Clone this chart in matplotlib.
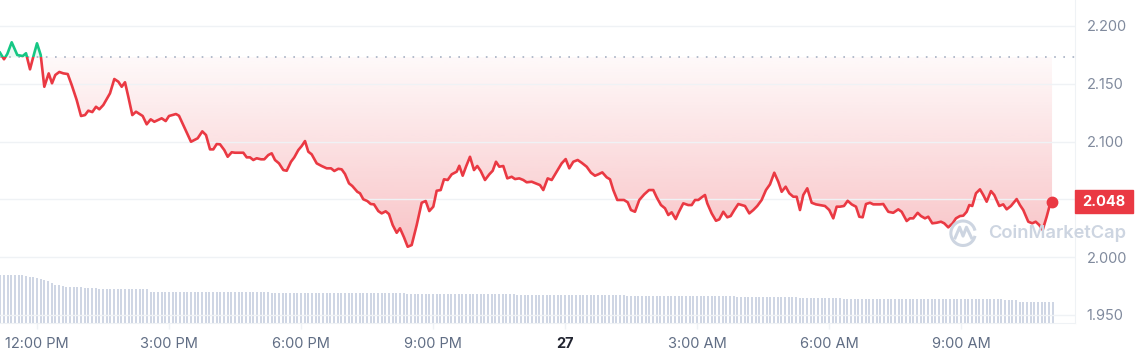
import matplotlib

matplotlib.use("Agg")
import matplotlib.pyplot as plt
import matplotlib.ticker as ticker
import matplotlib.transforms as mtransforms
from matplotlib.patches import Rectangle, Arc
import numpy as np

# time in hours since 00:00 on the 26th (24 = midnight "27")
times = [
    11.159, 11.25, 11.325, 11.425, 11.552, 11.675, 11.75, 11.841, 11.916, 12.0,
    12.084, 12.166, 12.266, 12.341, 12.416, 12.507, 12.598, 12.698, 12.789, 12.902,
    13.0, 13.091, 13.166, 13.257, 13.341, 13.416, 13.507, 13.659, 13.757, 13.848,
    13.925, 14.0, 14.075, 14.166, 14.25, 14.402, 14.493, 14.584, 14.666, 14.834,
    14.925, 15.0, 15.159, 15.227, 15.325, 15.5, 15.652, 15.757, 15.841, 15.932,
    16.007, 16.084, 16.159, 16.257, 16.334, 16.425, 16.5, 16.689, 16.766, 16.841,
    16.916, 16.993, 17.091, 17.166, 17.257, 17.334, 17.409, 17.5, 17.598, 17.675,
    17.773, 17.848, 17.939, 18.016, 18.091, 18.166, 18.243, 18.357, 18.470, 18.584,
    18.682, 18.757, 18.848, 18.925, 19.0, 19.091, 19.166, 19.280, 19.341, 19.416,
    19.507, 19.584, 19.659, 19.757, 19.834, 19.925, 20.0, 20.084, 20.175, 20.25,
    20.341, 20.425, 20.516, 20.630, 20.743, 20.834, 20.916, 21.007, 21.084, 21.175,
    21.25, 21.334, 21.425, 21.539, 21.598, 21.675, 21.75, 21.841, 21.932, 22.007,
    22.084, 22.182, 22.280, 22.357, 22.432, 22.507, 22.598, 22.689, 22.789, 22.864,
    22.961, 23.052, 23.130, 23.243, 23.334, 23.432, 23.507, 23.607, 23.698, 23.811,
    23.925, 24.016, 24.098, 24.189, 24.289, 24.380, 24.493, 24.591, 24.682, 24.757,
    24.848, 24.948, 25.023, 25.098, 25.189, 25.341, 25.425, 25.5, 25.591, 25.689,
    25.802, 25.909, 26.007, 26.084, 26.182, 26.273, 26.348, 26.425, 26.516, 26.591,
    26.689, 26.802, 26.880, 26.955, 27.030, 27.107, 27.182, 27.234, 27.334, 27.432,
    27.507, 27.598, 27.689, 27.766, 27.848, 27.939, 28.016, 28.091, 28.189, 28.280,
    28.370, 28.470, 28.568, 28.659, 28.757, 28.848, 28.925, 29.016, 29.098, 29.189,
    29.266, 29.341, 29.416, 29.507, 29.607, 29.705, 29.795, 29.909, 30.007, 30.098,
    30.175, 30.25, 30.341, 30.425, 30.516, 30.614, 30.689, 30.766, 30.841, 30.932,
    31.007, 31.159, 31.234, 31.348, 31.461, 31.575, 31.652, 31.766, 31.841, 31.916,
    32.016, 32.091, 32.182, 32.257, 32.348, 32.448, 32.545, 32.620, 32.711, 32.811,
    32.886, 32.977, 33.052, 33.130, 33.189, 33.257, 33.341, 33.432, 33.507, 33.584,
    33.682, 33.757, 33.870, 33.961, 34.039, 34.136, 34.266, 34.341, 34.416, 34.530,
    34.620, 34.698, 34.780, 34.857, 34.948, 35.045, 35.07,
]

prices = [
    2.1769, 2.1712, 2.1758, 2.1859, 2.1749, 2.1740, 2.1764, 2.1625, 2.1734, 2.1850,
    2.1749, 2.1474, 2.1590, 2.1504, 2.1576, 2.1602, 2.1590, 2.1584, 2.1489, 2.1359,
    2.1221, 2.1229, 2.1267, 2.1255, 2.1301, 2.1279, 2.1316, 2.1417, 2.1541, 2.1518,
    2.1474, 2.1513, 2.1388, 2.1229, 2.1258, 2.1221, 2.1149, 2.1192, 2.1171, 2.1201,
    2.1177, 2.1221, 2.1238, 2.1223, 2.1143, 2.0998, 2.1028, 2.1088, 2.1056, 2.0932,
    2.0932, 2.0978, 2.0976, 2.0926, 2.0868, 2.0907, 2.0903, 2.0903, 2.0863, 2.0863,
    2.0840, 2.0855, 2.0846, 2.0846, 2.0883, 2.0898, 2.0840, 2.0811, 2.0753, 2.0747,
    2.0825, 2.0863, 2.0926, 2.0961, 2.1004, 2.0912, 2.0889, 2.0811, 2.0788, 2.0768,
    2.0768, 2.0745, 2.0764, 2.0759, 2.0719, 2.0638, 2.0615, 2.0565, 2.0552, 2.0500,
    2.0485, 2.0459, 2.0456, 2.0398, 2.0378, 2.0396, 2.0372, 2.0277, 2.0210, 2.0249,
    2.0171, 2.0089, 2.0104, 2.0277, 2.0470, 2.0485, 2.0398, 2.0436, 2.0574, 2.0580,
    2.0673, 2.0667, 2.0716, 2.0739, 2.0790, 2.0704, 2.0782, 2.0868, 2.0753, 2.0788,
    2.0745, 2.0667, 2.0716, 2.0747, 2.0825, 2.0782, 2.0788, 2.0681, 2.0695, 2.0675,
    2.0681, 2.0667, 2.0647, 2.0652, 2.0638, 2.0623, 2.0580, 2.0681, 2.0667, 2.0739,
    2.0811, 2.0848, 2.0768, 2.0825, 2.0840, 2.0816, 2.0782, 2.0730, 2.0704, 2.0716,
    2.0733, 2.0690, 2.0673, 2.0580, 2.0494, 2.0494, 2.0474, 2.0407, 2.0392, 2.0494,
    2.0543, 2.0580, 2.0580, 2.0517, 2.0450, 2.0422, 2.0364, 2.0387, 2.0329, 2.0392,
    2.0465, 2.0450, 2.0450, 2.0494, 2.0494, 2.0517, 2.0537, 2.0465, 2.0378, 2.0314,
    2.0326, 2.0392, 2.0344, 2.0355, 2.0407, 2.0459, 2.0450, 2.0442, 2.0378, 2.0407,
    2.0442, 2.0494, 2.0580, 2.0629, 2.0730, 2.0652, 2.0565, 2.0609, 2.0552, 2.0522,
    2.0522, 2.0407, 2.0537, 2.0595, 2.0470, 2.0456, 2.0450, 2.0442, 2.0407, 2.0335,
    2.0436, 2.0436, 2.0442, 2.0487, 2.0456, 2.0436, 2.0349, 2.0344, 2.0459, 2.0470,
    2.0456, 2.0456, 2.0459, 2.0392, 2.0383, 2.0413, 2.0392, 2.0312, 2.0335, 2.0335,
    2.0383, 2.0355, 2.0335, 2.0349, 2.0292, 2.0297, 2.0306, 2.0292, 2.0257, 2.0292,
    2.0335, 2.0355, 2.0358, 2.0392, 2.0450, 2.0442, 2.0552, 2.0586, 2.0537, 2.0479,
    2.0571, 2.0537, 2.0442, 2.0456, 2.0413, 2.0442, 2.0502, 2.0450, 2.0407, 2.0306,
    2.0292, 2.0306, 2.0277, 2.0234, 2.0349, 2.0487, 2.048,
]

# 24h volume (billions), one bar every 5 minutes starting 11:10
vol_start = 11.167
volumes = [
    4.80, 4.80, 4.80, 4.80, 4.80, 4.80, 4.80, 4.75, 4.65, 4.60, 4.50, 4.45,
    4.35, 4.20, 4.00, 3.85, 3.80, 3.70, 3.65, 3.65, 3.60, 3.60, 3.60, 3.55,
    3.55, 3.55, 3.50, 3.40, 3.40, 3.40, 3.40, 3.40, 3.40, 3.40, 3.40, 3.40,
    3.40, 3.40, 3.40, 3.40, 3.40, 3.15, 3.15, 3.15, 3.15, 3.15, 3.15, 3.15,
    3.15, 3.15, 3.15, 3.15, 3.15, 3.15, 3.15, 3.15, 3.15, 3.15, 3.15, 3.15,
    3.15, 3.15, 3.15, 3.15, 3.15, 3.15, 3.15, 3.15, 3.15, 3.15, 3.15, 3.15,
    3.15, 3.15, 3.05, 3.05, 3.05, 3.05, 3.05, 3.05, 3.05, 3.05, 3.00, 3.00,
    3.00, 3.00, 3.00, 3.00, 3.00, 3.00, 3.00, 3.00, 3.00, 3.00, 3.00, 3.00,
    3.00, 3.00, 3.00, 3.00, 3.00, 3.00, 3.00, 3.00, 3.00, 3.00, 3.00, 3.00,
    3.00, 3.00, 3.00, 2.95, 2.95, 2.95, 2.95, 2.95, 2.95, 2.95, 2.95, 2.95,
    2.95, 2.95, 2.95, 2.95, 2.95, 2.95, 2.95, 2.95, 2.95, 2.95, 2.95, 2.95,
    2.95, 2.95, 2.95, 2.95, 2.95, 2.95, 2.95, 2.95, 2.95, 2.85, 2.85, 2.85,
    2.85, 2.85, 2.85, 2.85, 2.85, 2.85, 2.85, 2.85, 2.85, 2.85, 2.85, 2.85,
    2.85, 2.85, 2.85, 2.85, 2.85, 2.85, 2.85, 2.85, 2.85, 2.85, 2.85, 2.85,
    2.85, 2.85, 2.85, 2.75, 2.75, 2.75, 2.75, 2.75, 2.75, 2.75, 2.75, 2.75,
    2.75, 2.75, 2.75, 2.75, 2.75, 2.75, 2.75, 2.75, 2.75, 2.75, 2.75, 2.75,
    2.75, 2.75, 2.75, 2.75, 2.75, 2.75, 2.75, 2.75, 2.75, 2.65, 2.65, 2.65,
    2.65, 2.65, 2.65, 2.65, 2.65, 2.65, 2.65, 2.65, 2.65, 2.65, 2.65, 2.65,
    2.65, 2.65, 2.53, 2.53, 2.53, 2.53, 2.53, 2.53, 2.53, 2.53, 2.53, 2.53,
    2.53, 2.53, 2.37, 2.37, 2.37, 2.37, 2.37, 2.37, 2.37, 2.37, 2.37, 2.37,
    2.37, 2.37, 2.37, 2.37, 2.37, 2.37, 2.37, 2.37, 2.37, 2.37, 2.37, 2.37,
    2.37, 2.37, 2.37, 2.37, 2.37, 2.37, 2.37, 2.37, 2.37, 2.37, 2.37, 2.37,
    2.37, 2.37, 2.37, 2.37, 2.37, 2.37, 2.37, 2.37, 2.37, 2.37, 2.27, 2.27,
    2.27, 2.27, 2.13, 2.13, 2.13, 2.13, 2.13, 2.13, 2.13, 2.13, 2.13, 2.13,
]

open_price = 2.1732
last_price = 2.048
y_ticks = [1.95, 2.00, 2.05, 2.10, 2.15, 2.20]
x_ticks = [12, 15, 18, 21, 24, 27, 30, 33]
x_labels = ["12:00 PM", "3:00 PM", "6:00 PM", "9:00 PM", "27", "3:00 AM", "6:00 AM", "9:00 AM"]

RED = "#ea3943"
GREEN = "#16c784"
GRID = "#eff2f5"
LABEL = "#808a9d"
WATERMARK = "#cdd5e1"

plt.rcParams["font.family"] = ["Inter", "DejaVu Sans"]

fig = plt.figure(figsize=(11.35, 3.55), dpi=100)
rect = [0.0, 0.0901, 0.9471, 0.9099]

# volume axis sits behind the price axis
ax_vol = fig.add_axes(rect)
vt = vol_start + np.arange(len(volumes)) * (5 / 60)
ax_vol.bar(vt, volumes, width=0.05, color="#cfd6e4", align="center", linewidth=0)
ax_vol.set_ylim(0, 32.3)
ax_vol.set_xlim(11.159, 35.591)
ax_vol.axis("off")

ax = fig.add_axes(rect)
ax.patch.set_alpha(0)
t = np.array(times)
p = np.array(prices)
ymin, ymax = 1.9429, 2.2225
xmin, xmax = 11.159, 35.591

# gradient fill between the opening price and the line
below = np.minimum(p, open_price)
poly = ax.fill_between(t, below, open_price, color="none", linewidth=0)
grad = np.zeros((256, 1, 4))
grad[:, 0, 0] = 234 / 255
grad[:, 0, 1] = 57 / 255
grad[:, 0, 2] = 67 / 255
grad[:, 0, 3] = np.linspace(0.03, 0.30, 256)
im = ax.imshow(grad, extent=[t[0], t[-1], p.min(), open_price], origin="upper",
               aspect="auto", zorder=1, interpolation="bilinear")
im.set_clip_path(poly.get_paths()[0], ax.transData)
ax.fill_between(t, open_price, np.maximum(p, open_price), color=GREEN, alpha=0.08, linewidth=0)

# line: green above the opening price, red below
red_line, = ax.plot(t, p, color=RED, lw=1.9, zorder=3, solid_joinstyle="round")
red_line.set_clip_path(Rectangle((xmin, ymin), xmax - xmin, open_price - ymin, transform=ax.transData))
green_line, = ax.plot(t, p, color=GREEN, lw=1.9, zorder=3, solid_joinstyle="round")
green_line.set_clip_path(Rectangle((xmin, open_price), xmax - xmin, ymax - open_price, transform=ax.transData))
ax.plot([t[-1]], [p[-1]], "o", color=RED, markersize=7.5, zorder=4)

ax.axhline(open_price, color="#a6b0c3", lw=1.2, ls=(0, (1, 4.5)), zorder=2)

ax.set_xlim(xmin, xmax)
ax.set_ylim(ymin, ymax)
ax.set_yticks(y_ticks)
ax.yaxis.tick_right()
ax.yaxis.set_major_formatter(ticker.FuncFormatter(lambda v, _: "" if abs(v - 2.05) < 1e-6 else f"{v:.3f}"))
ax.grid(axis="y", color=GRID, lw=1)
ax.set_xticks(x_ticks)
ax.set_xticklabels(x_labels)
ax.tick_params(axis="y", length=0, pad=8.5, labelsize=10.5, labelcolor=LABEL)
ax.tick_params(axis="x", length=4, width=1, color=GRID, pad=6, labelsize=10.5, labelcolor="#616e85")
for lbl in ax.get_xticklabels():
    if lbl.get_text() == "27":
        lbl.set_fontweight("bold")
        lbl.set_color("#222531")

for side in ["top", "left"]:
    ax.spines[side].set_visible(False)
ax.spines["right"].set_color(GRID)
ax.spines["bottom"].set_color(GRID)

# current price tag
blend = mtransforms.blended_transform_factory(ax.transAxes, ax.transData)
ax.add_patch(Rectangle((1.0, last_price - 0.00995), 0.054, 0.0199, transform=blend,
                       color=RED, clip_on=False, zorder=5))
ax.text(1.027, last_price, f"{last_price:.3f}", transform=blend, ha="center", va="center",
        color="white", fontsize=10.5, fontweight="bold", zorder=6)

# watermark
fig.text(0.8705, 0.343, "CoinMarketCap", color=WATERMARK, fontsize=13.2, fontweight="semibold",
         ha="left", va="center", zorder=0)
fig.patches.append(Arc((0.8485, 0.343), 0.0215, 0.069, theta1=35, theta2=325,
                       transform=fig.transFigure, color=WATERMARK, lw=2.2))
fig.lines.append(plt.Line2D([0.8415, 0.8455, 0.8485, 0.8515, 0.856], [0.33, 0.36, 0.335, 0.36, 0.33],
                            transform=fig.transFigure, color=WATERMARK, lw=2.2))

fig.savefig("out.png", dpi=100, facecolor="white")
